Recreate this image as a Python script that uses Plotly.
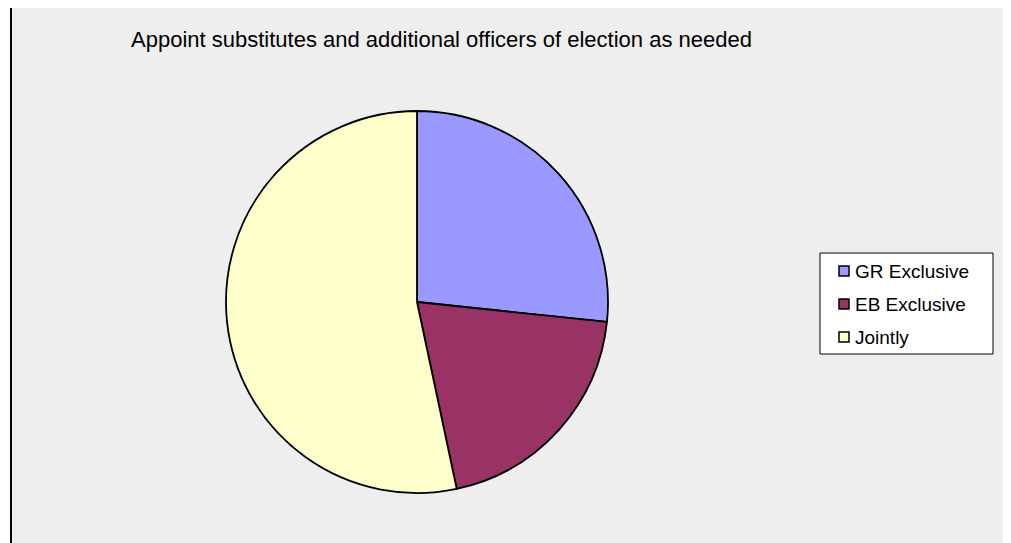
import plotly.graph_objects as go

W, H = 1011, 543
OFF = 8  # page body margin offset

categories = ["GR Exclusive", "EB Exclusive", "Jointly"]
values = [4, 3, 8]
colors = ["#9999FF", "#993366", "#FFFFCC"]
title_text = "Appoint substitutes and additional officers of election as needed"


def px(x):
    return (x - OFF) / W


def py(y):
    return 1 - (y - OFF) / H


cx, cy, r = 417, 302, 191

fig = go.Figure(go.Pie(
    labels=categories, values=values, sort=False, direction="clockwise", rotation=0,
    marker=dict(colors=colors, line=dict(color="black", width=1.8)),
    textinfo="none", hoverinfo="label+percent", showlegend=False,
    domain=dict(x=[px(cx - r), px(cx + r)], y=[py(cy + r), py(cy - r)]),
))

shapes = [
    dict(type="rect", xref="paper", yref="paper", x0=px(11), x1=px(1004), y0=-0.1, y1=py(3),
         fillcolor="#EEEEEE", line=dict(color="#808080", width=2), layer="below"),
    dict(type="line", xref="paper", yref="paper", x0=px(11), x1=px(11), y0=-0.1, y1=py(3),
         line=dict(color="black", width=2), layer="below"),
    # legend box
    dict(type="rect", xref="paper", yref="paper", x0=px(820), x1=px(993), y0=py(354), y1=py(253),
         fillcolor="white", line=dict(color="black", width=1)),
]
annotations = [dict(text=title_text, xref="paper", yref="paper", x=px(129), y=py(40),
                    xanchor="left", yanchor="middle", showarrow=False,
                    font=dict(size=22, family="Liberation Sans, Arial", color="black"))]

row_y = [271, 304, 337]
for cat, col, yc in zip(categories, colors, row_y):
    shapes.append(dict(type="rect", xref="paper", yref="paper", x0=px(839), x1=px(849),
                       y0=py(yc + 5), y1=py(yc - 5), fillcolor=col,
                       line=dict(color="black", width=1.5)))
    annotations.append(dict(text=cat, xref="paper", yref="paper", x=px(853), y=py(yc),
                            xanchor="left", yanchor="middle", showarrow=False,
                            font=dict(size=19, family="Liberation Sans, Arial", color="black")))

fig.update_layout(
    width=W, height=H, margin=dict(l=0, r=0, t=0, b=0),
    paper_bgcolor="white", showlegend=False,
    font=dict(family="Liberation Sans, Arial", color="black"),
    shapes=shapes, annotations=annotations,
)

fig.write_html("out.html")
